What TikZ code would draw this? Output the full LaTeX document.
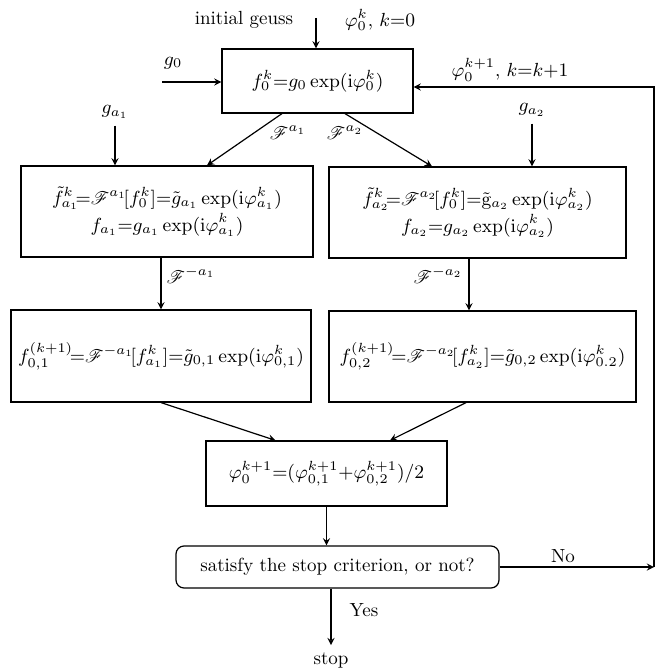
\documentclass[tikz,border=0pt]{standalone}
\usepackage{fix-cm}
\usepackage{amsmath,mathrsfs}
\usetikzlibrary{calc}
\begin{document}
\begin{tikzpicture}[>=stealth, x=0.5pt, y=-0.5pt, semithick,
    font=\fontsize{9.5}{11}\selectfont,
    box/.style={draw, inner sep=0pt, align=center}]
\useasboundingbox (0,0) rectangle (663,668);
\node (f0) at (317.5,81)[box, minimum width=95.5pt, minimum height=32pt]{$f^k_0{=}g_0\exp(\mathrm{i}\varphi^k_0)$};
\node (l2) at (167,211.5)[box, minimum width=146pt, minimum height=45.5pt]{$\tilde f^k_{a_1}\!{=}\mathscr{F}^{a_1}\![f^k_0]{=}\tilde g_{a_1}\exp(\mathrm{i}\varphi^k_{a_1})$\\[1pt] $f_{a_1}{=}g_{a_1}\exp(\mathrm{i}\varphi^k_{a_1})$};
\node (r2) at (477.5,212.5)[box, minimum width=148.5pt, minimum height=45.5pt]{$\tilde f^k_{a_2}\!{=}\mathscr{F}^{a_2}\![f^k_0]{=}\tilde{\mathrm{g}}_{a_2}\exp(\mathrm{i}\varphi^k_{a_2})$\\[1pt] $f_{a_2}{=}g_{a_2}\exp(\mathrm{i}\varphi^k_{a_2})$};
\node (l3) at (161,356)[box, minimum width=150pt, minimum height=46pt]{$f^{(k+1)}_{0,1}\!{=}\mathscr{F}^{-a_1}\![f^k_{a_1}]{=}\tilde g_{0,1}\exp(\mathrm{i}\varphi^k_{0,1})$};
\node (r3) at (482.5,356.5)[box, minimum width=153.5pt, minimum height=45.5pt]{$f^{(k+1)}_{0,2}\!{=}\mathscr{F}^{-a_2}\![f^k_{a_2}]{=}\tilde g_{0,2}\exp(\mathrm{i}\varphi^k_{0.2})$};
\node (avg) at (326.5,473.5)[box, minimum width=120.5pt, minimum height=32.5pt]{$\varphi^{k+1}_0{=}(\varphi^{k+1}_{0,1}{+}\varphi^{k+1}_{0,2})/2$};
\node (crit) at (337.5,567)[box, rounded corners=4pt, minimum width=161.5pt, minimum height=21pt]{satisfy the stop criterion, or not?};
\node (stop) at (331,660){stop};

\node (guess) at (244,20){initial geuss};
\node (phi0) at (380,20){$\varphi^k_0$, $k{=}0$};
\node (g0) at (173,63){$g_0$};
\node (phik) at (510,70){$\varphi^{k+1}_0$, $k{=}k{+}1$};
\node (ga1) at (115,112){$g_{a_1}$};
\node (ga2) at (532,110){$g_{a_2}$};
\coordinate (in0) at (316,18);
\coordinate (in1) at (162,82);
\coordinate (fb) at (654,87);

\draw[->] (in0) -- (in0 |- f0.north);
\draw[->] (in1) -- (f0.west |- in1);
\draw[->] (ga1.south) -- (ga1 |- l2.north);
\draw[->] (ga2.south) -- (ga2 |- r2.north);
\draw[->] ($(f0.south)+(-35.5,0)$) -- ($(l2.north)+(40,0)$);
\draw[->] ($(f0.south)+(27.5,0)$) -- ($(r2.north)+(-45.5,0)$);
\node at (288,133){$\mathscr{F}^{a_1}$};
\node at (345,133){$\mathscr{F}^{a_2}$};
\draw[->] (l2.south -| l3) -- (l3.north);
\draw[->] ($(r2.south)+(-8.5,0)$) -- ($(r3.north)+(-13.5,0)$);
\node at (191,275){$\mathscr{F}^{-a_1}$};
\node at (438,275){$\mathscr{F}^{-a_2}$};
\draw[->] (l3.south) -- ($(avg.north)+(-51,0)$);
\draw[->] ($(r3.south)+(-16.5,0)$) -- ($(avg.north)+(63.5,0)$);
\draw[->] (avg.south) -- (avg.south |- crit.north);
\draw[->] (crit.south -| stop) -- (stop.north);
\node at (364,610){Yes};
\draw[->] (crit.east) -- (crit.east -| fb);
\node at (563,556){No};
\draw[->] (crit.east -| fb) -- (fb) -- (f0.east |- fb);

\end{tikzpicture}
\end{document}
